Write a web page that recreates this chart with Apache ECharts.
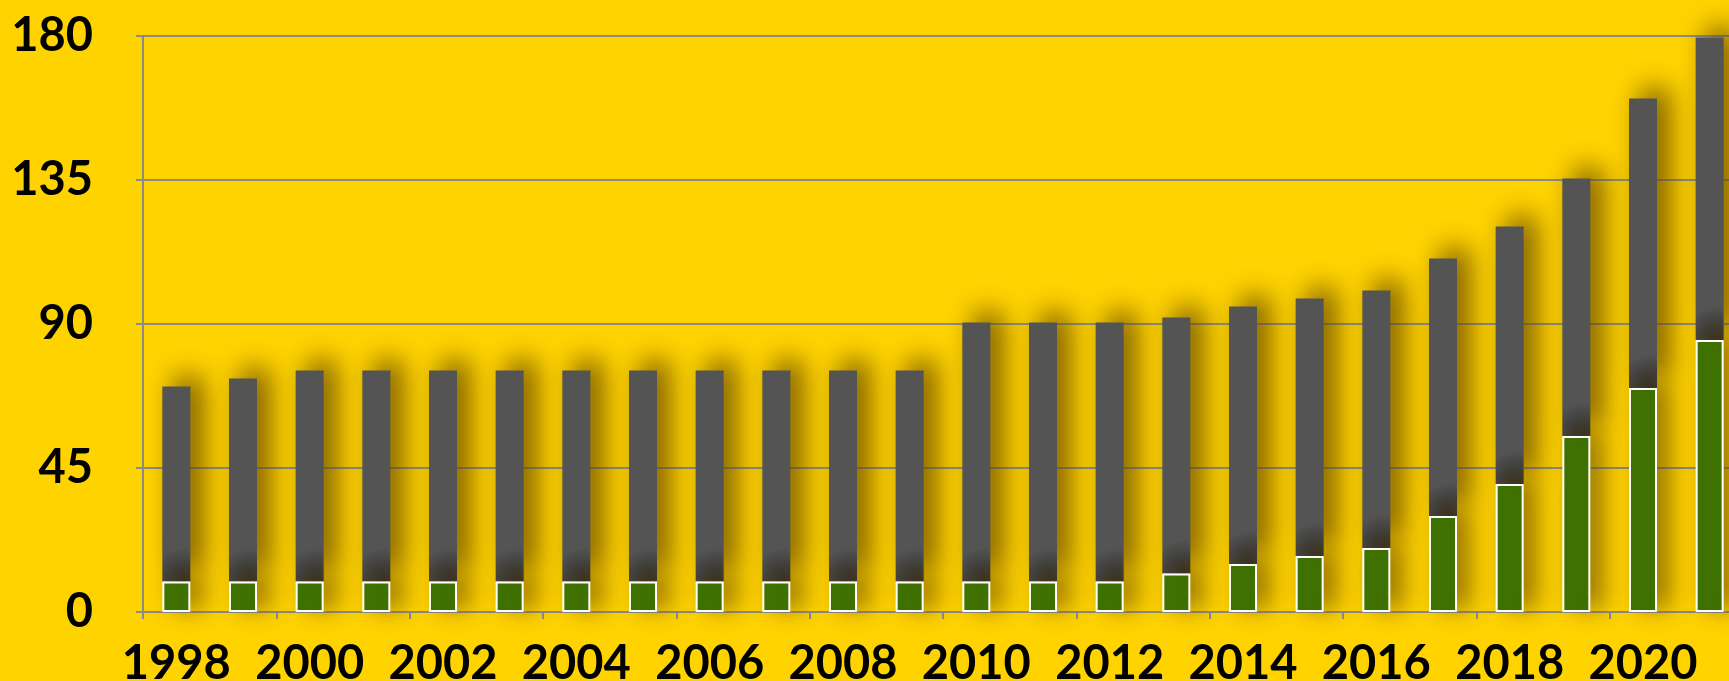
<!DOCTYPE html>
<html>
<head>
<meta charset="utf-8">
<script src="https://cdn.jsdelivr.net/npm/echarts@6/dist/echarts.min.js"></script>
<style>
html,body{margin:0;padding:0;background:#FFD300;}
#c{width:1729px;height:681px;}
</style>
</head>
<body>
<div id="c"></div>
<script>
const years = ['1998','1999','2000','2001','2002','2003','2004','2005','2006','2007','2008','2009','2010','2011','2012','2013','2014','2015','2016','2017','2018','2019','2020','2021'];
const totalValues = [70.5, 73, 75.5, 75.5, 75.5, 75.5, 75.5, 75.5, 75.5, 75.5, 75.5, 75.5, 90.5, 90.5, 90.5, 92, 95.5, 98, 100.5, 110.5, 120.5, 135.5, 160.5, 179.5];
const greenValues = [9.5, 9.5, 9.5, 9.5, 9.5, 9.5, 9.5, 9.5, 9.5, 9.5, 9.5, 9.5, 9.5, 9.5, 9.5, 12, 15, 17.5, 20, 30, 40, 55, 70, 85];
const yTicks = [0, 45, 90, 135, 180];

const grayValues = totalValues.map((t, i) => t - greenValues[i]);

const chart = echarts.init(document.getElementById('c'), null, { renderer: 'canvas' });
chart.setOption({
  backgroundColor: '#FFD300',
  animation: false,
  grid: { left: 143, right: -14, top: 36, bottom: 69, containLabel: false, outerBoundsMode: 'none' },
  xAxis: {
    type: 'category',
    data: years,
    boundaryGap: true,
    axisLine: { lineStyle: { color: '#8a8a8a', width: 2 } },
    axisTick: { show: true, length: 7, lineStyle: { color: '#8a8a8a', width: 2 } },
    axisLabel: {
      interval: 1,
      color: '#000',
      fontFamily: 'Lato',
      fontWeight: 'bold',
      fontSize: 47,
      margin: 28
    }
  },
  yAxis: {
    type: 'value',
    min: yTicks[0],
    max: yTicks[yTicks.length - 1],
    interval: 45,
    axisLine: { show: true, lineStyle: { color: '#8a8a8a', width: 2 } },
    axisTick: { show: true, length: 7, lineStyle: { color: '#8a8a8a', width: 2 } },
    splitLine: { lineStyle: { color: '#8a8a8a', width: 2 } },
    axisLabel: {
      color: '#000',
      fontFamily: 'Lato',
      fontWeight: 'bold',
      fontSize: 47,
      margin: 50
    }
  },
  series: [
    {
      name: 'green',
      type: 'bar',
      stack: 'a',
      z: 3,
      barWidth: 28,
      data: greenValues,
      itemStyle: {
        color: '#3D7400',
        borderColor: '#ffffff',
        borderWidth: 2,
        shadowColor: 'rgba(100,70,0,0.7)',
        shadowBlur: 24,
        shadowOffsetX: 12,
        shadowOffsetY: -4
      }
    },
    {
      name: 'gray',
      type: 'bar',
      stack: 'a',
      z: 2,
      barWidth: 28,
      data: grayValues,
      itemStyle: {
        color: {
          type: 'radial', x: 0.75, y: 1, r: 1.2,
          colorStops: [
            { offset: 0, color: '#2a2a2a' },
            { offset: 1, color: '#545454' }
          ]
        },
        shadowColor: 'rgba(100,70,0,0.9)',
        shadowBlur: 28,
        shadowOffsetX: 12,
        shadowOffsetY: -10
      }
    }
  ]
});
</script>
</body>
</html>
